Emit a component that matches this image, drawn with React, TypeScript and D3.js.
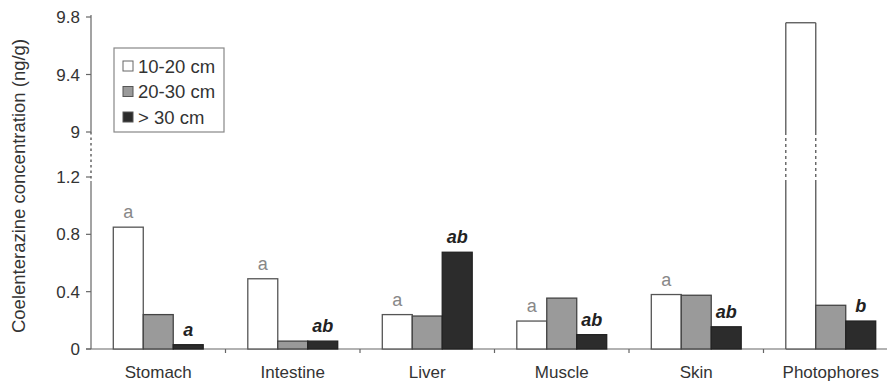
import React from "react";
import * as d3 from "d3";

const categories = ["Stomach", "Intestine", "Liver", "Muscle", "Skin", "Photophores"];
const seriesNames = ["10-20 cm", "20-30 cm", "> 30 cm"];
const small = [0.85, 0.49, 0.24, 0.195, 0.38, 9.76];
const medium = [0.24, 0.055, 0.23, 0.355, 0.375, 0.305];
const large = [0.03, 0.055, 0.675, 0.1, 0.155, 0.195];
const smallLetters = ["a", "a", "a", "a", "a", ""];
const largeLetters = ["a", "ab", "ab", "ab", "ab", "b"];
const yTicks = [0, 0.4, 0.8, 1.2, 9, 9.4, 9.8];
const yTickLabels = ["0", "0.4", "0.8", "1.2", "9", "9.4", "9.8"];

const W = 887;
const H = 383;
const FONT = "'Liberation Sans', Arial, sans-serif";
const fills = ["#ffffff", "#9a9a9a", "#2c2c2c"];
const strokes = ["#555", "#444", "#222"];
const BREAK_LO = 1.2;
const BREAK_HI = 9;

export default function App() {
  const x = d3.scaleBand<string>().domain(categories).range([91, 898]).paddingInner(0).paddingOuter(0);
  const xs = d3.scaleBand<string>().domain(seriesNames).range([0, x.bandwidth()]).paddingInner(0).paddingOuter(0.744);
  const y = d3.scaleLinear().domain([0, BREAK_LO, BREAK_HI, 9.8]).range([349, 177, 132, 17]);
  const breakTop = y(BREAK_HI);
  const breakBot = 181;
  const series = [small, medium, large];
  const axisColor = "#666";
  const bw = xs.bandwidth();

  const bars: React.ReactNode[] = [];
  categories.forEach((c, ci) => {
    series.forEach((vals, si) => {
      const v = vals[ci];
      const x0 = (x(c) as number) + (xs(seriesNames[si]) as number);
      const top = y(v);
      const bottom = y(0);
      const key = `${c}-${si}`;
      if (v > BREAK_HI) {
        bars.push(
          <g key={key}>
            <rect x={x0} y={top} width={bw} height={bottom - top} fill={fills[si]} />
            <line x1={x0} x2={x0 + bw} y1={top} y2={top} stroke={strokes[si]} strokeWidth={1.3} />
            <line x1={x0} x2={x0 + bw} y1={bottom} y2={bottom} stroke={strokes[si]} strokeWidth={1.3} />
            {[x0, x0 + bw].map((xx, k) => (
              <g key={k}>
                <line x1={xx} x2={xx} y1={top} y2={breakTop} stroke={strokes[si]} strokeWidth={1.3} />
                <line x1={xx} x2={xx} y1={breakTop} y2={breakBot} stroke={strokes[si]} strokeWidth={1.3} strokeDasharray="3,3" />
                <line x1={xx} x2={xx} y1={breakBot} y2={bottom} stroke={strokes[si]} strokeWidth={1.3} />
              </g>
            ))}
          </g>
        );
      } else {
        bars.push(
          <rect key={key} x={x0} y={top} width={bw} height={bottom - top} fill={fills[si]} stroke={strokes[si]} strokeWidth={1.3} />
        );
      }
    });
  });

  const letters: React.ReactNode[] = [];
  categories.forEach((c, ci) => {
    if (smallLetters[ci]) {
      const xc = (x(c) as number) + (xs(seriesNames[0]) as number) + bw / 2;
      letters.push(
        <text key={`s${ci}`} x={xc} y={y(small[ci]) - 9} textAnchor="middle" fontSize={18} fill="#888" fontFamily={FONT}>
          {smallLetters[ci]}
        </text>
      );
    }
    if (largeLetters[ci]) {
      const xc = (x(c) as number) + (xs(seriesNames[2]) as number) + bw / 2;
      letters.push(
        <text key={`l${ci}`} x={xc} y={y(large[ci]) - 9} textAnchor="middle" fontSize={18} fontWeight="bold" fontStyle="italic" fill="#222" fontFamily={FONT}>
          {largeLetters[ci]}
        </text>
      );
    }
  });

  return (
    <svg width={W} height={H} style={{ position: "absolute", left: 0, top: 0, background: "#fff" }}>
      {/* y axis */}
      <line x1={91} x2={91} y1={y(9.8) - 2} y2={breakTop} stroke={axisColor} strokeWidth={1.2} />
      <line x1={91} x2={91} y1={breakTop} y2={breakBot} stroke={axisColor} strokeWidth={1.5} strokeDasharray="2.5,3" />
      <line x1={91} x2={91} y1={breakBot} y2={y(0)} stroke={axisColor} strokeWidth={1.2} />
      {yTicks.map((t, i) => (
        <g key={t}>
          <line x1={86} x2={91} y1={y(t)} y2={y(t)} stroke={axisColor} strokeWidth={1.2} />
          <text x={80} y={y(t) + 6} textAnchor="end" fontSize={17} fill="#333" fontFamily={FONT}>
            {yTickLabels[i]}
          </text>
        </g>
      ))}
      {/* x axis */}
      <line x1={86} x2={W} y1={y(0)} y2={y(0)} stroke={axisColor} strokeWidth={1.2} />
      {categories.slice(1).map((c) => (
        <line key={c} x1={x(c) as number} x2={x(c) as number} y1={y(0)} y2={y(0) + 4} stroke={axisColor} strokeWidth={1.2} />
      ))}
      {categories.map((c) => (
        <text key={c} x={(x(c) as number) + x.bandwidth() / 2} y={378} textAnchor="middle" fontSize={17} fill="#333" fontFamily={FONT}>
          {c}
        </text>
      ))}
      <text transform={`translate(25,186) rotate(-90)`} textAnchor="middle" fontSize={18.5} fill="#333" fontFamily={FONT}>
        Coelenterazine concentration (ng/g)
      </text>
      {bars}
      {letters}
      {/* legend */}
      <rect x={114} y={48} width={110} height={84} fill="#fff" stroke="#888" strokeWidth={1.2} />
      {seriesNames.map((s, i) => {
        const cy = 66 + i * 25.5;
        return (
          <g key={s}>
            <rect x={123} y={cy - 5} width={10} height={10} fill={fills[i]} stroke={i === 0 ? "#666" : "#555"} strokeWidth={1} />
            <text x={138} y={cy + 6.5} fontSize={18.5} fill="#333" fontFamily={FONT}>
              {s}
            </text>
          </g>
        );
      })}
    </svg>
  );
}
